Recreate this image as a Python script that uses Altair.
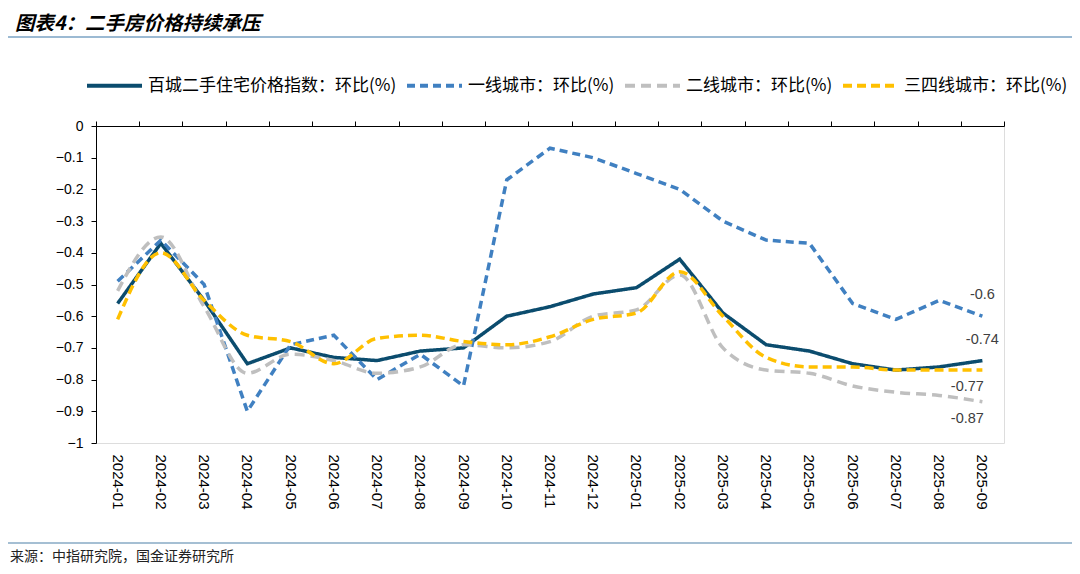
import altair as alt
import pandas as pd

months = ["2024-01", "2024-02", "2024-03", "2024-04", "2024-05", "2024-06", "2024-07",
          "2024-08", "2024-09", "2024-10", "2024-11", "2024-12", "2025-01", "2025-02",
          "2025-03", "2025-04", "2025-05", "2025-06", "2025-07", "2025-08", "2025-09"]

series_names = ["百城二手住宅价格指数：环比(%)", "一线城市：环比(%)",
                "二线城市：环比(%)", "三四线城市：环比(%)"]

main_idx = [-0.56, -0.37, -0.55, -0.75, -0.70, -0.73, -0.74, -0.71, -0.70, -0.60, -0.57,
            -0.53, -0.51, -0.42, -0.59, -0.69, -0.71, -0.75, -0.77, -0.76, -0.74]
tier1 = [-0.49, -0.36, -0.50, -0.90, -0.69, -0.66, -0.80, -0.72, -0.82, -0.17, -0.07,
         -0.10, -0.15, -0.20, -0.30, -0.36, -0.37, -0.56, -0.61, -0.55, -0.60]
tier2 = [-0.52, -0.35, -0.57, -0.78, -0.72, -0.74, -0.78, -0.76, -0.69, -0.70, -0.68,
         -0.60, -0.58, -0.47, -0.70, -0.77, -0.78, -0.82, -0.84, -0.85, -0.87]
tier34 = [-0.61, -0.40, -0.55, -0.66, -0.68, -0.75, -0.67, -0.66, -0.68, -0.69, -0.665,
          -0.61, -0.59, -0.46, -0.60, -0.73, -0.76, -0.76, -0.77, -0.77, -0.77]

y_ticks = [0, -0.1, -0.2, -0.3, -0.4, -0.5, -0.6, -0.7, -0.8, -0.9, -1]

title_text = "图表4：二手房价格持续承压"
source_text = "来源：中指研究院，国金证券研究所"

colors = ["#0B4C6E", "#4080C1", "#BFBFBF", "#FFC000"]
dashes = [[1, 0], [8, 5], [10, 6], [9, 5]]

rows = []
for name, vals in zip(series_names, [main_idx, tier1, tier2, tier34]):
    for m, v in zip(months, vals):
        rows.append({"month": m, "series": name, "value": v})
df = pd.DataFrame(rows)

FONT = "Liberation Sans"
CJK = "Noto Sans CJK SC"

xscale = alt.Scale(type="band", domain=months, paddingInner=0, paddingOuter=0)
yscale = alt.Scale(domain=[-1, 0], nice=False)


def legend_def():
    return alt.Legend(
        title=None, orient="none", direction="horizontal", legendX=-11, legendY=-70,
        symbolType="stroke", symbolSize=3025, symbolStrokeWidth=4,
        labelFont=CJK, labelFontSize=17, labelColor="#000000", labelOffset=4,
        columnPadding=2, labelLimit=400,
    )


color_enc = alt.Color("series:N", scale=alt.Scale(domain=series_names, range=colors),
                      legend=legend_def())
dash_enc = alt.StrokeDash("series:N", scale=alt.Scale(domain=series_names, range=dashes),
                          legend=legend_def())

base = alt.Chart(df)

lines_linear = base.transform_filter(
    alt.FieldOneOfPredicate(field="series", oneOf=series_names[:2])
).mark_line(strokeWidth=3.5, strokeCap="butt").encode(
    x=alt.X("month:O", scale=xscale, bandPosition=0.5,
            axis=alt.Axis(orient="top", labels=False, title=None, ticks=True, tickSize=5,
                          tickBand="extent", domainColor="#000000", tickColor="#000000",
                          grid=False)),
    y=alt.Y("value:Q", scale=yscale,
            axis=alt.Axis(orient="left", values=y_ticks, format="~g", title=None,
                          grid=False, domainColor="#000000", tickColor="#000000",
                          tickSize=5, labelFont=FONT, labelFontSize=14,
                          labelColor="#000000", labelPadding=8)),
    color=color_enc,
    strokeDash=dash_enc,
    order=alt.Order("month:O"),
)

lines_smooth = base.transform_filter(
    alt.FieldOneOfPredicate(field="series", oneOf=series_names[2:])
).mark_line(strokeWidth=3.5, interpolate="monotone", strokeCap="butt").encode(
    x=alt.X("month:O", scale=xscale, bandPosition=0.5,
            axis=alt.Axis(orient="bottom", domain=False, ticks=False, title=None,
                          labelAngle=90, labelFont=FONT, labelFontSize=15,
                          labelColor="#000000", labelPadding=11, grid=False)),
    y=alt.Y("value:Q", scale=yscale, axis=None),
    color=color_enc,
    strokeDash=dash_enc,
    order=alt.Order("month:O"),
)

last = base.transform_filter(alt.datum.month == months[-1]).transform_calculate(
    label="toString(datum.value)"
)

labels_above = last.transform_filter(
    alt.FieldOneOfPredicate(field="series", oneOf=series_names[:2])
).mark_text(dy=-21, font=FONT, fontSize=14.5, color="#404040").encode(
    x=alt.X("month:O", scale=xscale, bandPosition=0.5, axis=None),
    y=alt.Y("value:Q", scale=yscale, axis=None),
    text="label:N",
)

labels_below = last.transform_filter(
    alt.FieldOneOfPredicate(field="series", oneOf=series_names[2:])
).mark_text(dy=17, dx=-15, font=FONT, fontSize=14.5, color="#404040").encode(
    x=alt.X("month:O", scale=xscale, bandPosition=0.5, axis=None),
    y=alt.Y("value:Q", scale=yscale, axis=None),
    text="label:N",
)

one = pd.DataFrame({"k": [0]})

title_mark = alt.Chart(one).mark_text(
    text=title_text, font=CJK, fontSize=19.5, fontStyle="italic", fontWeight="bold",
    align="left", baseline="middle", color="#000000"
).encode(x=alt.value(-81), y=alt.value(-102))

top_rule = alt.Chart(one).mark_rule(color="#7BA3C4", strokeWidth=1.5).encode(
    x=alt.value(-88), x2=alt.value(979), y=alt.value(-89))

bottom_rule = alt.Chart(one).mark_rule(color="#A5BFD3", strokeWidth=2).encode(
    x=alt.value(-88), x2=alt.value(979), y=alt.value(417))

source_mark = alt.Chart(one).mark_text(
    text=source_text, font=CJK, fontSize=14, align="left", baseline="alphabetic",
    color="#222222"
).encode(x=alt.value(-86), y=alt.value(435))

chart = alt.layer(
    lines_linear, lines_smooth, labels_above, labels_below,
    title_mark, top_rule, bottom_rule, source_mark
).resolve_axis(x="independent", y="independent").properties(
    width=908, height=317,
    padding={"left": 88, "top": 118, "right": 68, "bottom": 123},
    autosize=alt.AutoSizeParams(type="none"),
).configure_view(strokeWidth=0).configure(background="#ffffff")

chart.save("out.html", embed_options={"renderer": "svg", "actions": False})
